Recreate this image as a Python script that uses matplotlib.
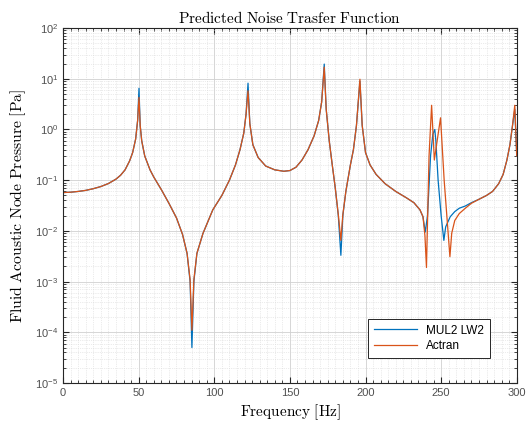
import numpy as np
import matplotlib
matplotlib.use("Agg")
import matplotlib.pyplot as plt
from matplotlib.ticker import LogLocator, MultipleLocator, NullFormatter

plt.rcParams["mathtext.fontset"] = "cm"
plt.rcParams["font.family"] = "Liberation Sans"

# values (frequency in Hz, pressure in Pa)
freq_mul2 = [0, 5, 10, 15, 20, 25, 30, 35, 38, 41, 44, 46, 48, 49.3, 50.2,
             51, 52, 54, 57.5, 60, 65, 70, 75, 79, 82, 84, 85.2, 86.5, 88.5,
             92.5, 99, 105, 110, 114, 117, 119.5, 121, 122.3, 123.5, 125.5,
             129, 134, 140, 146, 150, 154, 158, 162, 166, 169, 171, 172.7,
             174, 176, 178, 180, 182, 183.7, 185, 187, 190, 192, 194, 196.3,
             197.8, 200, 203, 207, 213, 220, 227, 232, 236, 238, 239.5, 241,
             243, 244.5, 245.8, 246.5, 248, 250, 251.8, 253, 256, 259, 262,
             266, 270, 275, 280, 284, 288, 291, 293.5, 295.5, 297.2, 298.7,
             300]
p_mul2 = [0.057, 0.058, 0.060, 0.063, 0.068, 0.075, 0.086, 0.105, 0.125,
          0.16, 0.24, 0.35, 0.65, 1.5, 6.5, 1.2, 0.6, 0.3, 0.16, 0.115,
          0.065, 0.035, 0.018, 0.0085, 0.0036, 0.0010, 5e-5, 0.0010, 0.0036,
          0.0089, 0.026, 0.05, 0.1, 0.2, 0.4, 0.85, 2.0, 8.2, 1.3, 0.5,
          0.28, 0.19, 0.16, 0.15, 0.155, 0.18, 0.25, 0.4, 0.75, 1.5, 3.5,
          19.5, 2.5, 0.6, 0.2, 0.07, 0.02, 0.0033, 0.02, 0.06, 0.2, 0.4,
          1.2, 9.0, 1.2, 0.35, 0.2, 0.13, 0.085, 0.06, 0.045, 0.036, 0.026,
          0.019, 0.0095, 0.02, 0.3, 0.8, 1.0, 0.6, 0.1, 0.02, 0.0065, 0.012,
          0.019, 0.024, 0.028, 0.031, 0.036, 0.042, 0.05, 0.06, 0.085, 0.13,
          0.25, 0.5, 1.2, 2.5, 0.3]

freq_actran = [0, 5, 10, 15, 20, 25, 30, 35, 38, 41, 44, 46, 48, 49.3, 50.2,
               51, 52, 54, 57.5, 60, 65, 70, 75, 79, 82, 84, 85.2, 86.5, 88.5,
               92.5, 99, 105, 110, 114, 117, 119.5, 121, 122.3, 123.5, 125.5,
               129, 134, 140, 146, 150, 154, 158, 162, 166, 169, 171, 172.7,
               174, 176, 178, 180, 182, 183.7, 185, 187, 190, 192, 194, 196.3,
               197.8, 200, 203, 207, 213, 220, 227, 232, 236, 238, 239.3,
               240.3, 242, 243.7, 245.5, 249.6, 252, 255.8, 257, 259, 262,
               266, 270, 275, 280, 284, 288, 291, 293.5, 295.5, 297.2, 298.7,
               300]
p_actran = [0.057, 0.058, 0.060, 0.063, 0.068, 0.075, 0.086, 0.105, 0.125,
            0.16, 0.24, 0.35, 0.65, 1.5, 4.3, 1.2, 0.6, 0.3, 0.16, 0.115,
            0.065, 0.035, 0.018, 0.0085, 0.0036, 0.0011, 1.1e-4, 0.0011,
            0.0036, 0.0089, 0.026, 0.05, 0.1, 0.2, 0.4, 0.85, 2.0, 5.8, 1.3,
            0.5, 0.28, 0.19, 0.16, 0.15, 0.155, 0.18, 0.25, 0.4, 0.75, 1.5,
            3.5, 17.0, 2.5, 0.6, 0.2, 0.07, 0.021, 0.0065, 0.021, 0.06, 0.2,
            0.4, 1.2, 9.8, 1.2, 0.35, 0.2, 0.13, 0.085, 0.06, 0.045, 0.036,
            0.026, 0.019, 0.008, 0.0019, 0.3, 3.0, 0.25, 1.7, 0.1, 0.0031,
            0.009, 0.016, 0.022, 0.028, 0.035, 0.042, 0.05, 0.06, 0.085, 0.13,
            0.25, 0.5, 1.2, 3.0, 0.3]

blue = "#0072BD"
orange = "#D95319"
axis_grey = "#262626"

fig = plt.figure(figsize=(5.3, 4.32), dpi=100)
ax = fig.add_axes([0.119, 0.1134, 0.856, 0.8216])

ax.plot(freq_mul2, p_mul2, color=blue, lw=0.9, label="MUL2 LW2")
ax.plot(freq_actran, p_actran, color=orange, lw=0.9, label="Actran")

ax.set_yscale("log")
ax.set_xlim(0, 300)
ax.set_ylim(1e-5, 1e2)
ax.xaxis.set_major_locator(MultipleLocator(50))
ax.xaxis.set_minor_locator(MultipleLocator(5))
ax.yaxis.set_major_locator(LogLocator(base=10, numticks=10))
ax.yaxis.set_minor_locator(LogLocator(base=10, subs=np.arange(2, 10), numticks=20))
ax.yaxis.set_minor_formatter(NullFormatter())

ax.grid(True, which="major", color="#d0d0d0", lw=0.6)
ax.grid(True, which="minor", color="#d8d8d8", lw=0.5, ls=":")
ax.set_axisbelow(True)

ax.tick_params(which="both", direction="in", top=True, right=True,
               colors=axis_grey, labelsize=8)
ax.tick_params(which="major", length=4)
ax.tick_params(which="minor", length=2)
ax.tick_params(labelcolor="#505050")
for s in ax.spines.values():
    s.set_color(axis_grey)
    s.set_linewidth(0.8)

ax.set_title(r"$\mathrm{Predicted\ Noise\ Trasfer\ Function}$",
             fontsize=11, pad=4)
ax.set_xlabel(r"$\mathrm{Frequency\ [Hz]}$", fontsize=11, labelpad=3)
ax.set_ylabel(r"$\mathrm{Fluid\ Acoustic\ Node\ Pressure\ [Pa]}$",
              fontsize=11.3, labelpad=5)

leg = ax.legend(loc="lower right", bbox_to_anchor=(0.9405, 0.0704),
                borderaxespad=0, fontsize=8.5, handlelength=3.6,
                borderpad=0.5, labelspacing=0.3, fancybox=False,
                framealpha=1, edgecolor=axis_grey)
leg.get_frame().set_linewidth(0.7)

fig.savefig("out.png", dpi=100)
